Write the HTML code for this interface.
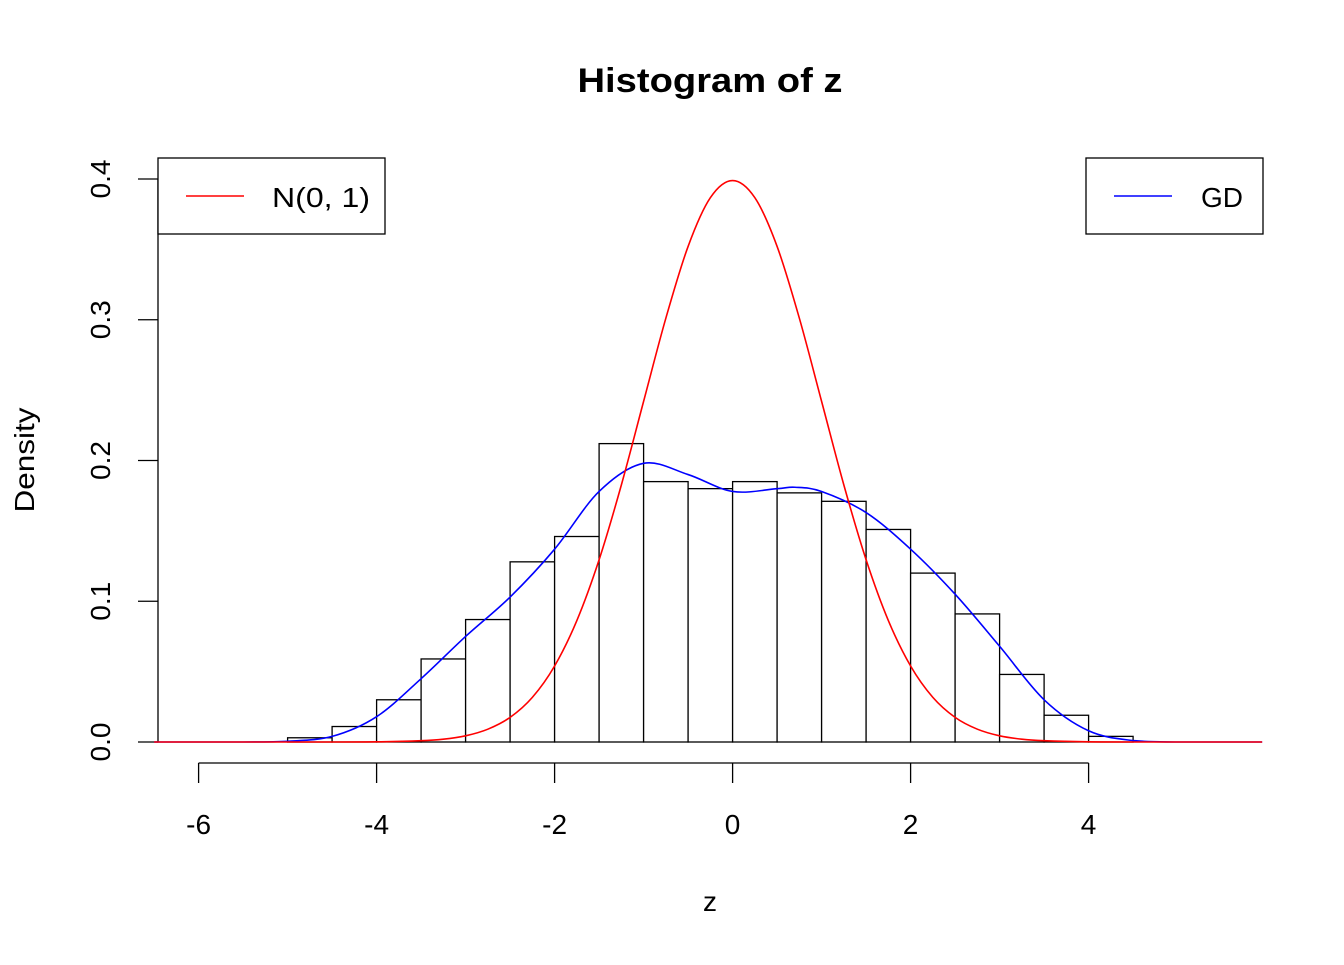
<!DOCTYPE html>
<html><head><meta charset="utf-8"><style>
body{margin:0;background:#fff}
svg text{font-family:"Liberation Sans",Arial,sans-serif}
</style></head><body>
<svg id="c" width="1344" height="960" xmlns="http://www.w3.org/2000/svg">
<text x="710" y="92" font-size="34" font-weight="bold" text-anchor="middle" textLength="265" lengthAdjust="spacingAndGlyphs">Histogram of z</text>
<text x="710" y="911" font-size="28" text-anchor="middle">z</text>
<text transform="translate(34,460) rotate(-90)" font-size="28" text-anchor="middle" textLength="105" lengthAdjust="spacingAndGlyphs">Density</text>
<g id="bars"></g>
<g id="axes"></g>
<g id="curves"></g>
<g>
<rect x="158" y="158" width="227" height="76" fill="#fff" stroke="#000" stroke-width="1.3"/>
<line x1="186" y1="196" x2="244" y2="196" stroke="#f00" stroke-width="1.5"/>
<text x="272" y="207" font-size="28" textLength="98" lengthAdjust="spacingAndGlyphs">N(0, 1)</text>
</g>
<g>
<rect x="1086" y="158" width="177" height="76" fill="#fff" stroke="#000" stroke-width="1.3"/>
<line x1="1114" y1="196" x2="1172" y2="196" stroke="#00f" stroke-width="1.5"/>
<text x="1201" y="207" font-size="28">GD</text>
</g>
</svg>
<script>
const binStarts=[-5,-4.5,-4,-3.5,-3,-2.5,-2,-1.5,-1,-0.5,0,0.5,1,1.5,2,2.5,3,3.5,4];
const binDensity=[0.003,0.011,0.030,0.059,0.087,0.128,0.146,0.212,0.185,0.180,0.185,0.177,0.171,0.151,0.120,0.091,0.048,0.019,0.004];
const binWidth=0.5;
const xTicks=[-6,-4,-2,0,2,4];
const yTicks=[0,0.1,0.2,0.3,0.4];
const yTickLabels=["0.0","0.1","0.2","0.3","0.4"];
const gdX=[-6.5,-5.5,-5,-4.5,-4,-3.5,-3,-2.5,-2,-1.5,-1,-0.5,0,0.5,0.7,1,1.5,2,2.5,3,3.5,4,4.5,5,5.95];
const gdY=[0,0,0.0005,0.004,0.018,0.045,0.075,0.103,0.137,0.178,0.198,0.190,0.178,0.180,0.181,0.178,0.163,0.137,0.105,0.068,0.030,0.008,0.001,0,0];
const normX=[-6.5,-4.5,-4,-3.5,-3.25,-3,-2.75,-2.5,-2.25,-2,-1.75,-1.5,-1.25,-1,-0.75,-0.5,-0.25,0,0.25,0.5,0.75,1,1.25,1.5,1.75,2,2.25,2.5,2.75,3,3.25,3.5,4,4.5,5.95];
const normY=[0,0,0.0001,0.0009,0.0020,0.0044,0.0091,0.0175,0.0317,0.0540,0.0863,0.1295,0.1826,0.2420,0.3011,0.3521,0.3867,0.3989,0.3867,0.3521,0.3011,0.2420,0.1826,0.1295,0.0863,0.0540,0.0317,0.0175,0.0091,0.0044,0.0020,0.0009,0.0001,0,0];
const NS="http://www.w3.org/2000/svg";
const X=v=>732.6+v*89, Y=v=>742-v*1407.5;
function mk(t,a,p){const e=document.createElementNS(NS,t);for(const k in a)e.setAttribute(k,a[k]);p.appendChild(e);return e;}
const bars=document.getElementById('bars');
binStarts.forEach((s,i)=>{
 const r=mk('rect',{x:X(s),y:Y(binDensity[i]),width:X(s+binWidth)-X(s),height:Y(0)-Y(binDensity[i]),fill:'#fff',stroke:'#000','stroke-width':1.3},bars);
 
 
});
const ax=document.getElementById('axes');
mk('line',{x1:X(xTicks[0]),x2:X(xTicks[xTicks.length-1]),y1:763,y2:763,stroke:'#000','stroke-width':1.3},ax);
xTicks.forEach(t=>{mk('line',{x1:X(t),x2:X(t),y1:763,y2:783,stroke:'#000','stroke-width':1.3},ax);
 const tx=mk('text',{x:X(t),y:834,'font-size':28,'text-anchor':'middle'},ax);tx.textContent=t;
 
 });
mk('line',{x1:158,x2:158,y1:Y(yTicks[0]),y2:Y(yTicks[yTicks.length-1]),stroke:'#000','stroke-width':1.3},ax);
yTicks.forEach((t,i)=>{mk('line',{x1:138,x2:158,y1:Y(t),y2:Y(t),stroke:'#000','stroke-width':1.3},ax);
 const tx=mk('text',{transform:`translate(110,${Y(t)}) rotate(-90)`,'font-size':28,'text-anchor':'middle'},ax);tx.textContent=yTickLabels[i];
 
 });
function smooth(xs,ys){const P=xs.map((x,i)=>[X(x),Y(ys[i])]);let d=`M${P[0][0]},${P[0][1]}`;
 for(let i=0;i<P.length-1;i++){const p0=P[i-1]||P[i],p1=P[i],p2=P[i+1],p3=P[i+2]||P[i+1];
  let c1y=p1[1]+(p2[1]-p0[1])/6,c2y=p2[1]-(p3[1]-p1[1])/6;c1y=Math.min(c1y,742);c2y=Math.min(c2y,742);
  d+=`C${p1[0]+(p2[0]-p0[0])/6},${c1y} ${p2[0]-(p3[0]-p1[0])/6},${c2y} ${p2[0]},${p2[1]}`;}
 return d;}
const cv=document.getElementById('curves');
const g=mk('path',{d:smooth(gdX,gdY),fill:'none',stroke:'#00f','stroke-width':1.6},cv);


const n=mk('path',{d:smooth(normX,normY),fill:'none',stroke:'#f00','stroke-width':1.6},cv);


</script>
</body></html>
